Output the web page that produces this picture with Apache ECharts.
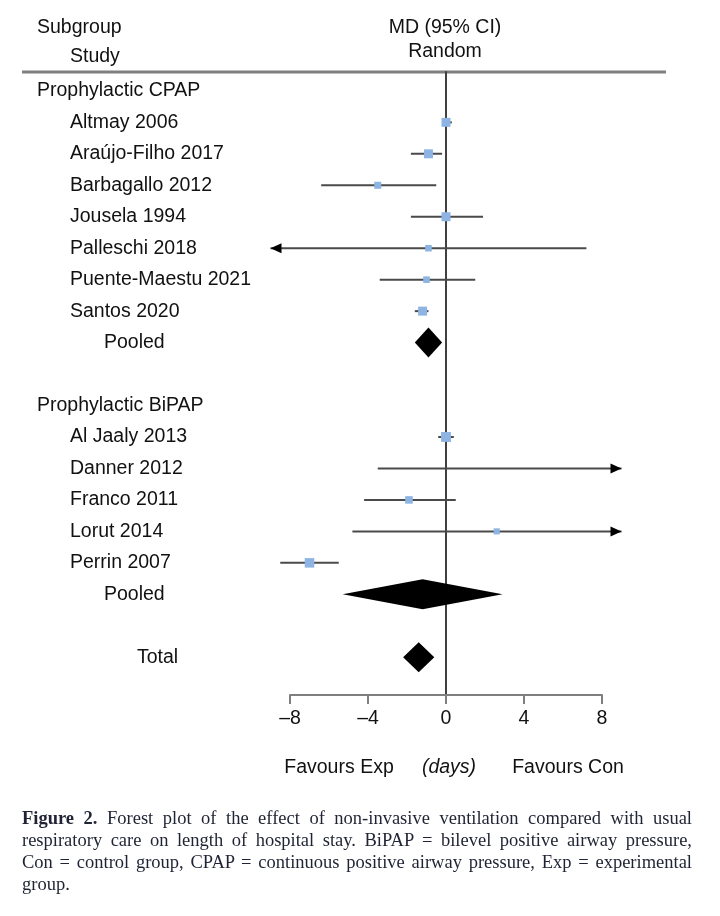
<!DOCTYPE html>
<html>
<head>
<meta charset="utf-8">
<script src="https://cdn.jsdelivr.net/npm/echarts@6/dist/echarts.min.js"></script>
<style>
  html, body { margin: 0; padding: 0; background: #fff; }
  #wrap { position: relative; width: 720px; height: 916px; overflow: hidden; }
  #chart { position: absolute; left: 0; top: 0; width: 720px; height: 916px; }
  #caption { position: absolute; left: 22px; top: 807px; width: 670px; color: #1f2333;
    font-family: "Liberation Serif", "Times New Roman", serif;
    font-size: 18.5px; line-height: 22px; }
  #caption .j { text-align: justify; text-align-last: justify; white-space: nowrap; }
</style>
</head>
<body>
<div id="wrap">
  <div id="chart"></div>
  <div id="caption">
    <div class="j"><b>Figure 2.</b> Forest plot of the effect of non-invasive ventilation compared with usual</div>
    <div class="j">respiratory care on length of hospital stay. BiPAP = bilevel positive airway pressure,</div>
    <div class="j">Con = control group, CPAP = continuous positive airway pressure, Exp = experimental</div>
    <div>group.</div>
  </div>
</div>
<script>
// ---- Data ----
const rowLabels = ['Prophylactic CPAP', 'Altmay 2006', 'Araújo-Filho 2017', 'Barbagallo 2012', 'Jousela 1994',
  'Palleschi 2018', 'Puente-Maestu 2021', 'Santos 2020', 'Pooled', '',
  'Prophylactic BiPAP', 'Al Jaaly 2013', 'Danner 2012', 'Franco 2011', 'Lorut 2014', 'Perrin 2007', 'Pooled', '',
  'Total'];
const rowLevel = [0, 1, 1, 1, 1, 1, 1, 1, 2, 0, 0, 1, 1, 1, 1, 1, 2, 0, 3];

// individual studies (row index refers to rowLabels)
const studyRow    = [1, 2, 3, 4, 5, 6, 7, 11, 12, 13, 14, 15];
const studyMD     = [0.0, -0.9, -3.5, 0.0, -0.9, -1.0, -1.2, 0.0, 9.5, -1.9, 2.6, -7.0];
const studyLower  = [-0.2, -1.8, -6.4, -1.8, -9.1, -3.4, -1.6, -0.4, -3.5, -4.2, -4.8, -8.5];
const studyUpper  = [0.3, -0.2, -0.5, 1.9, 7.2, 1.5, -0.9, 0.4, 22.5, 0.5, 10.0, -5.5];
const studyWeight = [14, 14, 8.5, 14, 7.5, 7.5, 14, 17, 0, 9.8, 6.5, 15.7];

// pooled estimates
const pooledRow   = [8, 16, 18];
const pooledMD    = [-0.9, -1.2, -1.4];
const pooledLower = [-1.6, -5.3, -2.2];
const pooledUpper = [-0.2, 2.9, -0.6];

const xTicks = [-8, -4, 0, 4, 8];

// ---- Chart ----
const FONT = '"Liberation Sans", Arial, sans-serif';
const FS = '19.5px ';
const PLOT_LIMIT = 9;      // CI lines beyond this get an arrow
const indentX = [37, 70, 104, 137];

const chart = echarts.init(document.getElementById('chart'), null, { renderer: 'canvas' });

const studyData = studyRow.map((r, i) => [studyMD[i], r, studyLower[i], studyUpper[i], studyWeight[i]]);
const pooledData = pooledRow.map((r, i) => [pooledMD[i], r, pooledLower[i], pooledUpper[i]]);
const labelData = rowLabels.map((t, i) => [0, i, rowLevel[i]]);

function arrow(x, y, dir) {
  const L = 11, H = 5;
  return { type: 'polygon', shape: { points: [[x, y], [x - dir * L, y - H], [x - dir * L, y + H]] },
    style: { fill: '#000' } };
}

const option = {
  animation: false,
  grid: { left: 290, right: 118, top: 72, bottom: 221, containLabel: false },
  xAxis: {
    type: 'value', min: xTicks[0], max: xTicks[xTicks.length - 1], interval: 4,
    axisLine: { show: true, onZero: false, lineStyle: { color: '#7f7f7f', width: 2 } },
    axisTick: { show: true, length: 9, lineStyle: { color: '#7f7f7f', width: 2 } },
    axisLabel: { margin: 14, fontSize: 19.5, color: '#111', fontFamily: FONT,
      formatter: v => (v < 0 ? '\u2013' + Math.abs(v) : String(v)) },
    splitLine: { show: false }
  },
  yAxis: {
    type: 'value', inverse: true, min: -0.6, max: 19.2,
    axisLine: { show: true, onZero: true, lineStyle: { color: '#404040', width: 2 } },
    axisTick: { show: false }, axisLabel: { show: false }, splitLine: { show: false }
  },
  series: [
    {
      type: 'custom', name: 'labels', data: labelData, clip: false, silent: true,
      encode: { x: 0, y: 1 },
      renderItem: function (params, api) {
        const y = api.coord([0, api.value(1)])[1];
        const lvl = api.value(2);
        return { type: 'text', x: indentX[lvl], y: y,
          style: { text: rowLabels[params.dataIndex], fill: '#111', font: FS + FONT,
            textAlign: 'left', textVerticalAlign: 'middle' } };
      }
    },
    {
      type: 'custom', name: 'studies', data: studyData, clip: false,
      encode: { x: 0, y: 1 },
      renderItem: function (params, api) {
        const md = api.value(0), row = api.value(1), lo = api.value(2), hi = api.value(3), w = api.value(4);
        const y = api.coord([0, row])[1];
        const xl = api.coord([Math.max(lo, -PLOT_LIMIT), row])[0];
        const xh = api.coord([Math.min(hi, PLOT_LIMIT), row])[0];
        const children = [{
          type: 'line', shape: { x1: xl, y1: y, x2: xh, y2: y },
          style: { stroke: '#4a4a4a', lineWidth: 2 }
        }];
        if (lo < -PLOT_LIMIT) children.push(arrow(xl, y, -1));
        if (hi > PLOT_LIMIT) children.push(arrow(xh, y, 1));
        if (md >= -PLOT_LIMIT && md <= PLOT_LIMIT && w > 0) {
          const s = 2.4 * Math.sqrt(w);
          const xm = api.coord([md, row])[0];
          children.push({ type: 'rect', shape: { x: xm - s / 2, y: y - s / 2, width: s, height: s },
            style: { fill: '#8db4e2' } });
        }
        return { type: 'group', children: children };
      }
    },
    {
      type: 'custom', name: 'pooled', data: pooledData, clip: false,
      encode: { x: 0, y: 1 },
      renderItem: function (params, api) {
        const row = api.value(1);
        const c = api.coord([api.value(0), row]);
        const xl = api.coord([api.value(2), row])[0];
        const xh = api.coord([api.value(3), row])[0];
        const h = 15;
        return { type: 'polygon',
          shape: { points: [[xl, c[1]], [c[0], c[1] - h], [xh, c[1]], [c[0], c[1] + h]] },
          style: { fill: '#000' } };
      }
    }
  ],
  graphic: [
    { type: 'line', shape: { x1: 22, y1: 72, x2: 666, y2: 72 }, style: { stroke: '#7f7f7f', lineWidth: 3 } },
    { type: 'text', x: 37, y: 28, style: { text: 'Subgroup', font: FS + FONT, fill: '#111', textVerticalAlign: 'middle' } },
    { type: 'text', x: 70, y: 57, style: { text: 'Study', font: FS + FONT, fill: '#111', textVerticalAlign: 'middle' } },
    { type: 'text', x: 445, y: 28, style: { text: 'MD (95% CI)', font: FS + FONT, fill: '#111', textAlign: 'center', textVerticalAlign: 'middle' } },
    { type: 'text', x: 445, y: 52, style: { text: 'Random', font: FS + FONT, fill: '#111', textAlign: 'center', textVerticalAlign: 'middle' } },
    { type: 'text', x: 339, y: 768, style: { text: 'Favours Exp', font: FS + FONT, fill: '#111', textAlign: 'center', textVerticalAlign: 'middle' } },
    { type: 'text', x: 449, y: 768, style: { text: '(days)', font: 'italic ' + FS + FONT, fill: '#111', textAlign: 'center', textVerticalAlign: 'middle' } },
    { type: 'text', x: 568, y: 768, style: { text: 'Favours Con', font: FS + FONT, fill: '#111', textAlign: 'center', textVerticalAlign: 'middle' } }
  ]
};
chart.setOption(option);
</script>
</body>
</html>
